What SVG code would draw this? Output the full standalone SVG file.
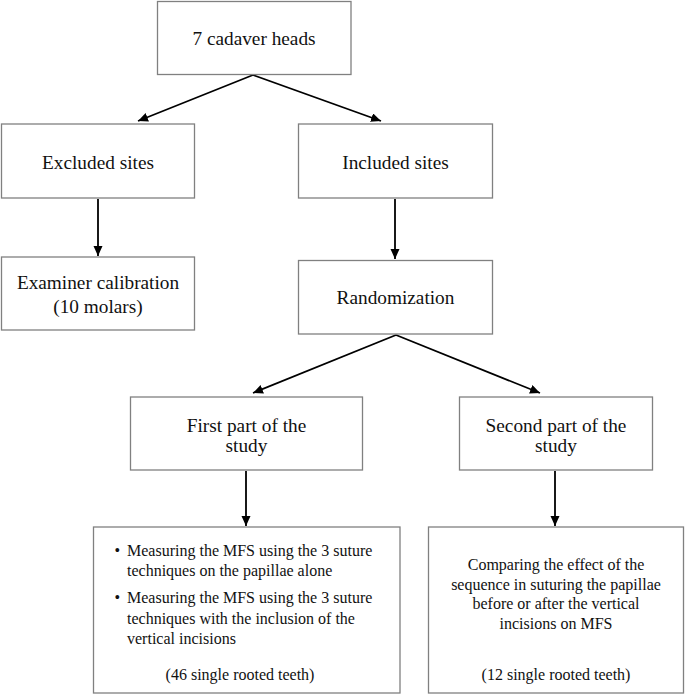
<svg xmlns="http://www.w3.org/2000/svg" width="685" height="694" viewBox="0 0 685 694">
<defs>
<style>
.box{fill:#fff;stroke:#808080;stroke-width:1.3}
.t{font-family:"Liberation Serif","Times New Roman",serif;font-size:19.3px;fill:#111;text-anchor:middle}
.s{font-family:"Liberation Serif","Times New Roman",serif;font-size:16px;fill:#111}
.m{text-anchor:middle}
.c{stroke:#000;stroke-width:1.8;fill:none;marker-end:url(#ah)}
</style>
<marker id="ah" markerUnits="userSpaceOnUse" markerWidth="12" markerHeight="10" refX="10" refY="4.5" orient="auto">
<path d="M0,0 L10,4.5 L0,9 Z" fill="#000"/>
</marker>
</defs>
<rect width="685" height="694" fill="#fff"/>
<g id="connectors">
<line class="c" x1="253" y1="75" x2="138" y2="121"/>
<line class="c" x1="253" y1="75" x2="381" y2="121"/>
<line class="c" x1="98" y1="199" x2="98" y2="256"/>
<line class="c" x1="395" y1="199" x2="395" y2="259"/>
<line class="c" x1="396" y1="335" x2="253" y2="393"/>
<line class="c" x1="396" y1="335" x2="540" y2="393"/>
<line class="c" x1="246" y1="471" x2="246" y2="526"/>
<line class="c" x1="555" y1="471" x2="555" y2="526"/>
</g>
<g id="n1"><rect class="box" x="157.5" y="1.5" width="193.5" height="73"/><text class="t" x="254" y="45">7 cadaver heads</text></g>
<g id="n2"><rect class="box" x="1.5" y="124" width="193" height="74"/><text class="t" x="98" y="168.5">Excluded sites</text></g>
<g id="n3"><rect class="box" x="298.5" y="124" width="194" height="74"/><text class="t" x="395.5" y="168.5">Included sites</text></g>
<g id="n4"><rect class="box" x="1.5" y="257" width="193" height="73"/><text class="t" x="98" y="289">Examiner calibration</text><text class="t" x="98" y="313">(10 molars)</text></g>
<g id="n5"><rect class="box" x="298.5" y="260.5" width="194" height="73.5"/><text class="t" x="395.5" y="304">Randomization</text></g>
<g id="n6"><rect class="box" x="130.5" y="397" width="232" height="73"/><text class="t" x="246.5" y="431.5">First part of the</text><text class="t" x="246.5" y="452">study</text></g>
<g id="n7"><rect class="box" x="459.5" y="397" width="193" height="73"/><text class="t" x="556" y="431.5">Second part of the</text><text class="t" x="556" y="452">study</text></g>
<g id="n8"><rect class="box" x="93.5" y="527" width="306.5" height="166"/>
<text class="s" x="114.5" y="555.5">•</text>
<text class="s" x="127" y="555.5">Measuring the MFS using the 3 suture</text>
<text class="s" x="127" y="576">techniques on the papillae alone</text>
<text class="s" x="114.5" y="603">•</text>
<text class="s" x="127" y="603">Measuring the MFS using the 3 suture</text>
<text class="s" x="127" y="623.5">techniques with the inclusion of the</text>
<text class="s" x="127" y="644">vertical incisions</text>
<text class="s m" x="240" y="680">(46 single rooted teeth)</text>
</g>
<g id="n9"><rect class="box" x="428.5" y="527" width="255" height="166"/>
<text class="s m" x="556" y="570">Comparing the effect of the</text>
<text class="s m" x="556" y="589.5">sequence in suturing the papillae</text>
<text class="s m" x="556" y="609">before or after the vertical</text>
<text class="s m" x="556" y="628.5">incisions on MFS</text>
<text class="s m" x="556" y="680">(12 single rooted teeth)</text>
</g>
</svg>
